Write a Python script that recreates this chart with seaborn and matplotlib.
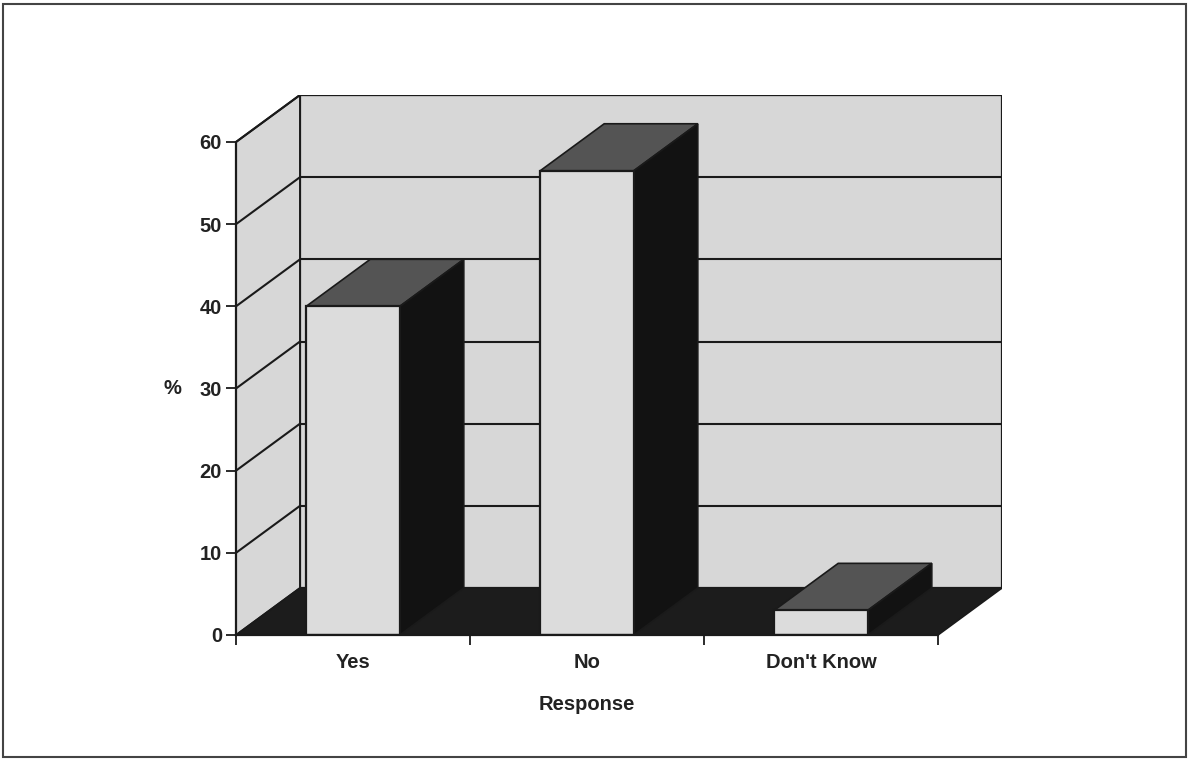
import matplotlib
matplotlib.use("Agg")
import matplotlib.pyplot as plt
from matplotlib.patches import Polygon, Rectangle
import seaborn as sns
import pandas as pd

# Survey responses (percent)
categories = ["Yes", "No", "Don't Know"]
percentages = [40.0, 56.5, 3.0]
y_ticks = [0, 10, 20, 30, 40, 50, 60]

sns.set_theme(style="white")
plt.rcParams["font.family"] = ["Liberation Sans", "DejaVu Sans"]
plt.rcParams["font.weight"] = "bold"

TEXT = "#222222"
WALL = "#d7d7d7"
FACE = "#dcdcdc"
TOP = "#545454"
SIDE = "#121212"
FLOOR = "#1c1c1c"
EDGE = "#1a1a1a"
FS = 14.5

# depth of the 3-D box, expressed in data units (x: categories, y: percent)
DX, DY = 0.2735, 5.72
YMAX = 60

fig = plt.figure(figsize=(11.89, 7.64), dpi=100)
W, H = 1189, 764
left, right, bottom, top = 236, 1002, 635, 95
ax = fig.add_axes([left / W, (H - bottom) / H, (right - left) / W, (bottom - top) / H])

df = pd.DataFrame({"Response": categories, "Percent": percentages})
sns.barplot(data=df, x="Response", y="Percent", ax=ax, width=0.4, color=FACE,
            saturation=1, edgecolor=EDGE, linewidth=1.6, zorder=6)
bars = list(ax.patches)

n = len(categories)
x0, x1 = -0.5, n - 0.5
ax.set_xlim(x0, x1 + DX)
ax.set_ylim(0, YMAX + DY)

# back wall, side wall and floor of the box
ax.add_patch(Polygon([(x0 + DX, DY), (x1 + DX, DY), (x1 + DX, YMAX + DY), (x0 + DX, YMAX + DY)],
                     closed=True, facecolor=WALL, edgecolor=EDGE, linewidth=1.6, zorder=0.5))
ax.add_patch(Polygon([(x0, 0), (x0 + DX, DY), (x0 + DX, YMAX + DY), (x0, YMAX)],
                     closed=True, facecolor=WALL, edgecolor=EDGE, linewidth=1.4, zorder=0.6))
ax.add_patch(Polygon([(x0, 0), (x1, 0), (x1 + DX, DY), (x0 + DX, DY)],
                     closed=True, facecolor=FLOOR, edgecolor=EDGE, linewidth=1.2, zorder=0.7))

# gridlines on the back and side walls
for v in y_ticks[1:]:
    ax.plot([x0 + DX, x1 + DX], [v + DY, v + DY], color=EDGE, lw=1.5, zorder=1,
            solid_capstyle="butt")
    ax.plot([x0, x0 + DX], [v, v + DY], color=EDGE, lw=1.5, zorder=1)

# top and side faces of each column
for p in bars:
    bx, bw, bh = p.get_x(), p.get_width(), p.get_height()
    ax.add_patch(Polygon([(bx, bh), (bx + bw, bh), (bx + bw + DX, bh + DY), (bx + DX, bh + DY)],
                         closed=True, facecolor=TOP, edgecolor=EDGE, linewidth=1.2, zorder=4))
    ax.add_patch(Polygon([(bx + bw, 0), (bx + bw + DX, DY), (bx + bw + DX, bh + DY), (bx + bw, bh)],
                         closed=True, facecolor=SIDE, edgecolor=EDGE, linewidth=1.2, zorder=4))

# axes lines along the front of the box
for s in ["top", "right"]:
    ax.spines[s].set_visible(False)
ax.spines["left"].set_bounds(0, YMAX)
ax.spines["bottom"].set_bounds(x0, x1)
for s in ["left", "bottom"]:
    ax.spines[s].set_color(EDGE)
    ax.spines[s].set_linewidth(1.6)
    ax.spines[s].set_zorder(7)

ax.set_yticks(y_ticks)
ax.set_yticklabels([str(t) for t in y_ticks])
ax.tick_params(axis="y", direction="out", length=7, width=1.3, color=EDGE, pad=3,
               labelsize=FS, labelcolor=TEXT, left=True)
ax.set_xticks(range(n))
ax.set_xticklabels(categories)
ax.set_xticks([x0 + i for i in range(n + 1)], minor=True)
ax.tick_params(axis="x", which="major", length=0, pad=13, labelsize=FS, labelcolor=TEXT)
ax.tick_params(axis="x", which="minor", direction="out", length=7, width=1.3, color=EDGE,
               bottom=True)
for lab in ax.get_xticklabels() + ax.get_yticklabels():
    lab.set_fontweight("bold")

ax.set_xlabel("Response", fontsize=FS, fontweight="bold", color=TEXT)
ax.xaxis.set_label_coords((587 - left) / (right - left), -(704 - bottom) / (bottom - top))
ax.xaxis.label.set_va("center")
ax.set_ylabel("%", fontsize=FS, fontweight="bold", color=TEXT, rotation=0,
              ha="center", va="center")
ax.yaxis.set_label_coords((172 - left) / (right - left), 30 / (YMAX + DY))
ax.set_facecolor("none")

# outer frame
fig.add_artist(Rectangle((3 / W, 7 / H), (1186 - 3) / W, (760 - 7) / H, transform=fig.transFigure,
                         fill=False, edgecolor="#444444", linewidth=1.5))

fig.savefig("out.png", dpi=100, facecolor="white")
